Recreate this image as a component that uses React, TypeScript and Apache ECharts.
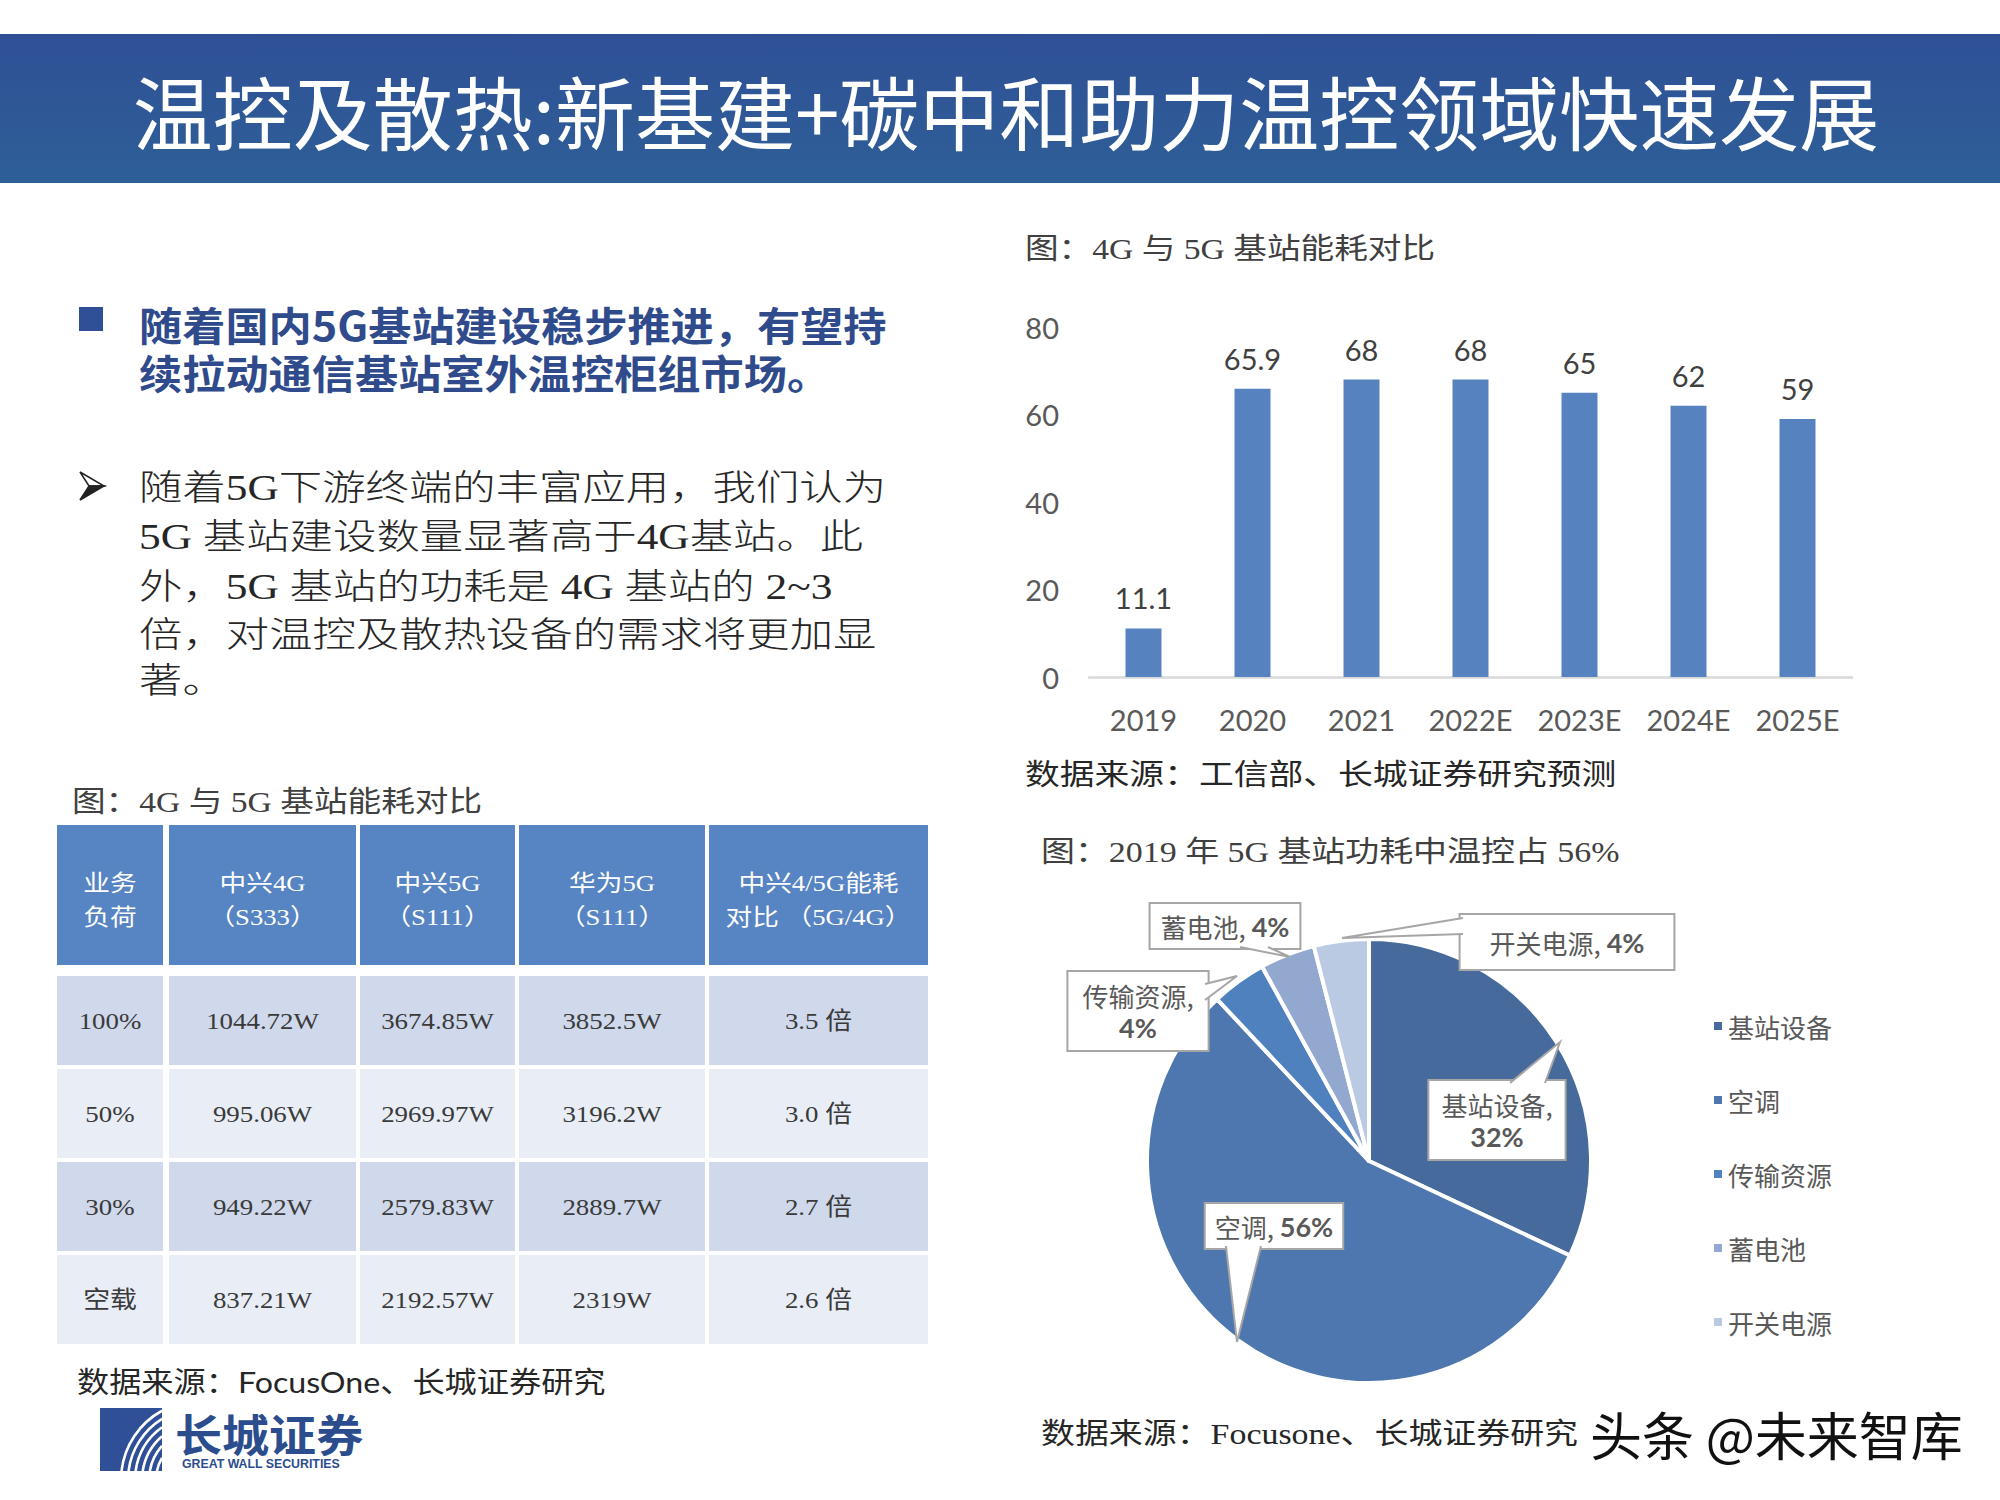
import React, { useEffect, useRef } from 'react';
import * as echarts from 'echarts';

// ---------------- data ----------------
const TITLE = '温控及散热:新基建+碳中和助力温控领域快速发展';
const BLUE_LINES = ['随着国内5G基站建设稳步推进，有望持', '续拉动通信基站室外温控柜组市场。'];
const BODY_LINES = [
  '随着5G下游终端的丰富应用，我们认为',
  '5G 基站建设数量显著高于4G基站。此',
  '外，5G 基站的功耗是 4G 基站的 2~3',
  '倍，对温控及散热设备的需求将更加显',
  '著。',
];

const TABLE_CAPTION = '图：4G 与 5G 基站能耗对比';
const TABLE_HEADERS = [
  ['业务', '负荷'],
  ['中兴4G', '（S333）'],
  ['中兴5G', '（S111）'],
  ['华为5G', '（S111）'],
  ['中兴4/5G能耗', '对比 （5G/4G）'],
];
const LOADS = ['100%', '50%', '30%', '空载'];
const ZTE_4G = ['1044.72W', '995.06W', '949.22W', '837.21W'];
const ZTE_5G = ['3674.85W', '2969.97W', '2579.83W', '2192.57W'];
const HUAWEI_5G = ['3852.5W', '3196.2W', '2889.7W', '2319W'];
const RATIO = ['3.5 倍', '3.0 倍', '2.7 倍', '2.6 倍'];
const TABLE_SOURCE = '数据来源：FocusOne、长城证券研究';

const BAR_CAPTION = '图：4G 与 5G 基站能耗对比';
const YEARS = ['2019', '2020', '2021', '2022E', '2023E', '2024E', '2025E'];
const ENERGY = [11.1, 65.9, 68, 68, 65, 62, 59];
const Y_MIN = 0;
const Y_MAX = 80;
const Y_STEP = 20;
const BAR_SOURCE = '数据来源：工信部、长城证券研究预测';

const PIE_CAPTION = '图：2019 年 5G 基站功耗中温控占 56%';
const PIE_NAMES = ['基站设备', '空调', '传输资源', '蓄电池', '开关电源'];
const PIE_VALUES = [32, 56, 4, 4, 4];
const PIE_SOURCE = '数据来源：Focusone、长城证券研究';

const LOGO_CN = '长城证券';
const LOGO_EN = 'GREAT WALL SECURITIES';
const WATERMARK = '头条 @未来智库';

// ---------------- layout / style ----------------
const SERIF = 'Liberation Serif, "Noto Sans CJK SC", serif';
const SANS_CJK = '"Noto Sans CJK SC", sans-serif';
const LATO = 'Lato, "Noto Sans CJK SC", sans-serif';

const PIE_COLORS = ['#466A9C', '#4D77AE', '#4F81BF', '#92A8CF', '#BBCAE3'];
const PIE_WRAP = ['基站设备', '传输资源'];
const PIE_CENTER = [1369, 1161];
const PIE_RADIUS = 222;
const PIE_CALLOUTS = [
  { cx: 1497, cy: 1120, pad: [7, 12], tail: [[1510, 1083], [1560, 1042], [1545, 1083]] },
  { cx: 1274, cy: 1226, pad: [6, 9], tail: [[1226, 1246], [1237, 1342], [1261, 1246]] },
  { cx: 1138, cy: 1011, pad: [7, 14], tail: [[1205, 984], [1237, 976], [1205, 1000]] },
  { cx: 1225, cy: 926, pad: [6, 10], tail: [[1240, 947], [1290, 957], [1268, 947]] },
  { cx: 1567, cy: 942, pad: [11, 29], tail: [[1463, 918], [1342, 938], [1463, 934]] },
];

const COLS = [
  [57, 163],
  [169, 356],
  [360, 515],
  [519, 705],
  [709, 928],
];
const HEADER_Y = [825, 965];
const ROW_TOPS = [976, 1069, 1162, 1255];
const ROW_H = 89;
const ROW_FILLS = ['#CFD9EB', '#E9EEF6', '#CFD9EB', '#E9EEF6'];

type TOpt = {
  size: number;
  fill?: string;
  family?: string;
  weight?: string | number;
  align?: string;
  sx?: number;
  z?: number;
};

function txt(text: string, x: number, y: number, o: TOpt) {
  const align = o.align || 'left';
  return {
    type: 'text',
    x,
    y,
    scaleX: o.sx || 1,
    z: o.z ?? 10,
    silent: true,
    style: {
      text,
      fill: o.fill || '#333',
      fontSize: o.size,
      fontFamily: o.family || SANS_CJK,
      fontWeight: o.weight || 'normal',
      align,
      verticalAlign: 'middle',
      textAlign: align,
      textVerticalAlign: 'middle',
    },
  };
}

function buildGraphic() {
  const g: any[] = [];

  // title bar
  g.push({
    type: 'rect',
    silent: true,
    z: 1,
    shape: { x: 0, y: 34, width: 2000, height: 149 },
    style: {
      fill: new echarts.graphic.LinearGradient(0, 0, 0, 1, [
        { offset: 0, color: '#2F5096' },
        { offset: 1, color: '#2E5F97' },
      ]),
    },
  });
  g.push(txt(TITLE, 1006, 109, { size: 80, fill: '#ffffff', align: 'center', family: SANS_CJK }));

  // blue bullet
  g.push({ type: 'rect', silent: true, z: 5, shape: { x: 79, y: 307, width: 24, height: 24 }, style: { fill: '#2F4F96' } });
  BLUE_LINES.forEach((t, i) => {
    g.push(txt(t, 139, 324 + i * 48, { size: 40, fill: '#2F4B8C', weight: 'bold', sx: 1.08, family: SANS_CJK }));
  });

  // arrow bullet
  g.push({
    type: 'polygon', silent: true, z: 5,
    shape: { points: [[80, 472], [104, 486], [89, 486]] },
    style: { fill: '#fff', stroke: '#222', lineWidth: 1.5 },
  });
  g.push({
    type: 'polygon', silent: true, z: 5,
    shape: { points: [[89, 486], [104, 486], [80, 500]] },
    style: { fill: '#222', stroke: '#222', lineWidth: 1.5 },
  });
  const bodyY = [488, 537, 587, 635, 681];
  BODY_LINES.forEach((t, i) => {
    g.push(txt(t, 139, bodyY[i], { size: 35, fill: '#262626', sx: 1.24, family: SERIF, weight: 300 }));
  });

  // table caption
  g.push(txt(TABLE_CAPTION, 72, 802, { size: 29, fill: '#404040', sx: 1.16, family: SERIF }));

  // header
  COLS.forEach(([x0, x1], c) => {
    g.push({
      type: 'rect', silent: true, z: 2,
      shape: { x: x0, y: HEADER_Y[0], width: x1 - x0, height: HEADER_Y[1] - HEADER_Y[0] },
      style: { fill: '#5784C2' },
    });
    const cx = (x0 + x1) / 2;
    g.push(txt(TABLE_HEADERS[c][0], cx, 883, { size: 23, fill: '#fff', align: 'center', sx: 1.16, family: SERIF }));
    g.push(txt(TABLE_HEADERS[c][1], cx, 917, { size: 23, fill: '#fff', align: 'center', sx: 1.16, family: SERIF }));
  });

  const rows = LOADS.map((l, i) => [l, ZTE_4G[i], ZTE_5G[i], HUAWEI_5G[i], RATIO[i]]);
  rows.forEach((row, r) => {
    const top = ROW_TOPS[r];
    COLS.forEach(([x0, x1], c) => {
      g.push({
        type: 'rect', silent: true, z: 2,
        shape: { x: x0, y: top, width: x1 - x0, height: ROW_H },
        style: { fill: ROW_FILLS[r] },
      });
      g.push(txt(row[c], (x0 + x1) / 2, top + ROW_H / 2, { size: 24, fill: '#3A3A3A', align: 'center', sx: 1.12, family: SERIF }));
    });
  });

  g.push(txt(TABLE_SOURCE, 77, 1382, { size: 29, fill: '#262626', sx: 1.11, family: LATO }));

  // logo
  g.push({ type: 'rect', silent: true, z: 3, shape: { x: 100, y: 1408, width: 62, height: 63 }, style: { fill: '#2F4F96' } });
  [44, 51, 58, 65, 72, 79].forEach((r) => {
    const p1 = Math.asin(9 / r);
    const p2 = Math.min(Math.acos(38 / r), r > 72 ? Math.asin(72 / r) : Math.PI / 2);
    g.push({
      type: 'arc', silent: true, z: 4,
      shape: { cx: 200, cy: 1480, r, startAngle: Math.PI + p1, endAngle: Math.PI + p2, clockwise: true },
      style: { stroke: '#ffffff', lineWidth: 2.6, fill: 'none' },
    });
  });
  g.push(txt(LOGO_CN, 175, 1433, { size: 44, fill: '#2B4D8E', weight: 'bold', sx: 1.07, family: SANS_CJK }));
  g.push(txt(LOGO_EN, 182, 1464, { size: 13, fill: '#2B4D8E', weight: 'bold', sx: 0.95, family: 'Liberation Sans, sans-serif' }));

  // bar chart caption & source
  g.push(txt(BAR_CAPTION, 1025, 249, { size: 29, fill: '#404040', sx: 1.16, family: SERIF }));
  g.push(txt(BAR_SOURCE, 1025, 775, { size: 29, fill: '#262626', sx: 1.2, family: SERIF }));

  // pie caption & source
  g.push(txt(PIE_CAPTION, 1041, 852, { size: 29, fill: '#404040', sx: 1.17, family: SERIF }));
  g.push(txt(PIE_SOURCE, 1041, 1434, { size: 29, fill: '#262626', sx: 1.17, family: SERIF }));

  // callout tails
  PIE_CALLOUTS.forEach((c) => {
    g.push({ type: 'polygon', silent: true, z: 20, shape: { points: c.tail }, style: { fill: '#ffffff' } });
    g.push({ type: 'polyline', silent: true, z: 21, shape: { points: c.tail }, style: { stroke: '#A6A6A6', lineWidth: 2, fill: 'none' } });
  });

  // watermark
  g.push(txt(WATERMARK, 1590, 1433, { size: 52, fill: '#111111', family: SANS_CJK, z: 30 }));

  return g;
}

function buildOption(): any {
  return {
    animation: false,
    backgroundColor: '#ffffff',
    graphic: { elements: buildGraphic() },
    grid: { left: 1089, right: 148, top: 327, bottom: 823, containLabel: false },
    xAxis: {
      type: 'category',
      data: YEARS,
      axisLine: { show: true, lineStyle: { color: '#D9D9D9', width: 2.5 } },
      axisTick: { show: false },
      axisLabel: { color: '#595959', fontSize: 29, fontFamily: LATO, margin: 28, interval: 0 },
    },
    yAxis: {
      type: 'value',
      min: Y_MIN,
      max: Y_MAX,
      interval: Y_STEP,
      axisLine: { show: false },
      axisTick: { show: false },
      splitLine: { show: false },
      axisLabel: { color: '#595959', fontSize: 29, fontFamily: LATO, margin: 30 },
    },
    legend: {
      data: PIE_NAMES,
      orient: 'vertical',
      left: 1707,
      top: 1008,
      itemWidth: 10,
      itemHeight: 10,
      itemGap: 48,
      icon: 'rect',
      selectedMode: false,
      textStyle: { fontSize: 26, color: '#595959', fontFamily: SANS_CJK },
    },
    series: [
      {
        type: 'bar',
        data: ENERGY,
        barWidth: 36,
        itemStyle: { color: '#5683C0' },
        label: {
          show: true,
          position: 'top',
          distance: 16,
          color: '#404040',
          fontSize: 29,
          fontFamily: LATO,
        },
        emphasis: { disabled: true },
      },
      {
        type: 'pie',
        center: PIE_CENTER,
        radius: PIE_RADIUS,
        startAngle: 90,
        clockwise: true,
        avoidLabelOverlap: false,
        itemStyle: { borderColor: '#ffffff', borderWidth: 4 },
        emphasis: { disabled: true },
        labelLine: { show: false },
        label: {
          show: true,
          position: 'outside',
          backgroundColor: '#ffffff',
          borderColor: '#A6A6A6',
          borderWidth: 2,
          align: 'center',
          formatter: (p: any) =>
            PIE_WRAP.includes(p.name)
              ? `{n|${p.name},}\n{p|${p.value}%}`
              : `{n|${p.name}, }{p|${p.value}%}`,
          rich: {
            n: { fontSize: 26, color: '#595959', fontFamily: SANS_CJK, lineHeight: 32 },
            p: { fontSize: 27, fontWeight: 'bold', color: '#595959', fontFamily: LATO, lineHeight: 32 },
          },
        },
        labelLayout: (params: any) => {
          const c = PIE_CALLOUTS[params.dataIndex];
          return { x: c.cx, y: c.cy, align: 'center', verticalAlign: 'middle' };
        },
        data: PIE_NAMES.map((name, i) => ({
          name,
          value: PIE_VALUES[i],
          itemStyle: { color: PIE_COLORS[i] },
          label: { padding: PIE_CALLOUTS[i].pad },
        })),
      },
    ],
  };
}

export default function App() {
  const ref = useRef<HTMLDivElement>(null);
  useEffect(() => {
    if (!ref.current) return;
    const chart = echarts.init(ref.current, null, { renderer: 'svg' });
    chart.setOption(buildOption());
    return () => chart.dispose();
  }, []);
  return (
    <div
      ref={ref}
      style={{ position: 'absolute', left: 0, top: 0, width: 2000, height: 1500, background: '#ffffff' }}
    />
  );
}
